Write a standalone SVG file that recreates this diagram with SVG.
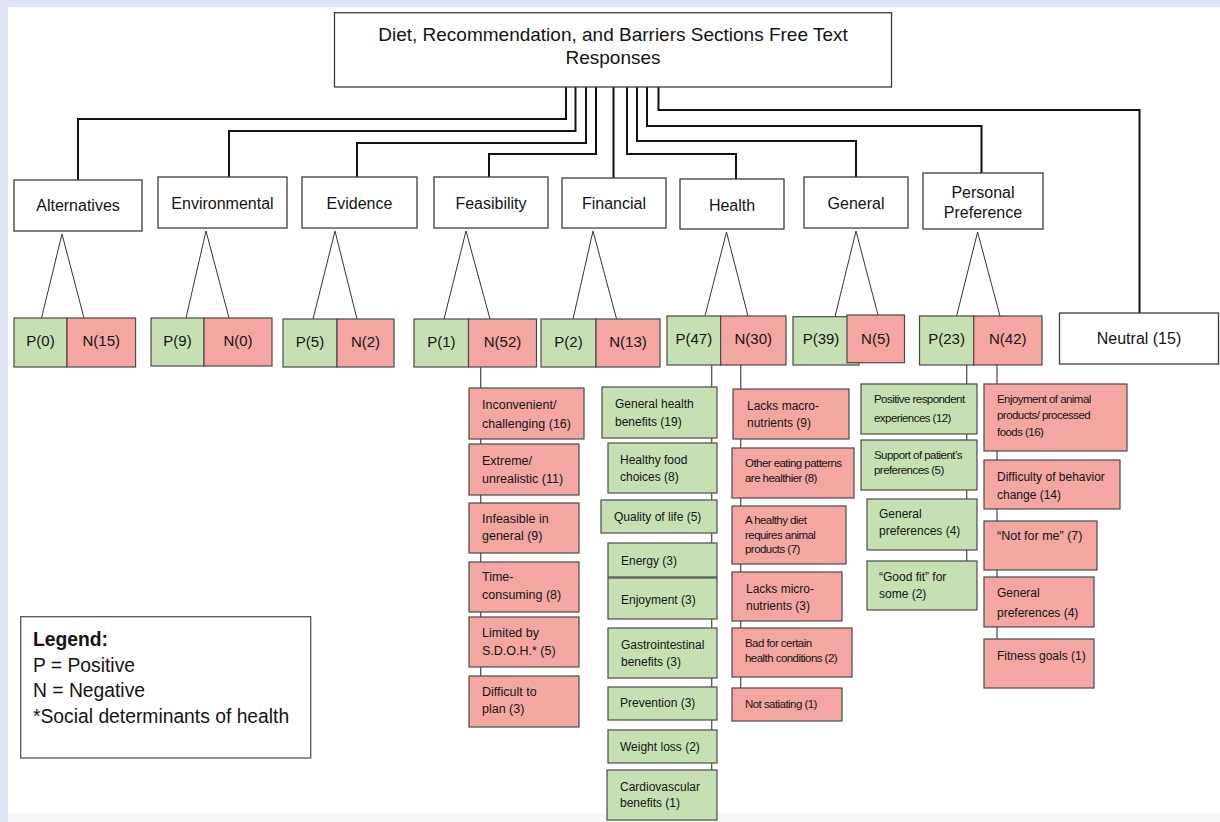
<svg xmlns="http://www.w3.org/2000/svg" width="1220" height="822" viewBox="0 0 1220 822">
<style>
.t{font-family:"Liberation Sans",Arial,sans-serif;fill:#141414}
.c{text-anchor:middle}
.cat{fill:#fff;stroke:#3c3c3c;stroke-width:1.3}
.pos{fill:#c6e0b4;stroke:#4a4a4a;stroke-width:1.2}
.neg{fill:#f4a6a2;stroke:#4a4a4a;stroke-width:1.2}
.conn{fill:none;stroke:#111;stroke-width:2}
.tri{fill:none;stroke:#333;stroke-width:1}
.stem{fill:none;stroke:#555;stroke-width:1.3}
.ttl{font-size:19px}
.cf{font-size:16px}
.pn{font-size:15px}
.s{font-size:12px}
.s5{font-size:12.5px}
.cd{font-size:11.5px;letter-spacing:-0.55px}
.lg{font-size:19.3px}
</style>
<rect x="0" y="0" width="1220" height="822" fill="#dfe3f3"/>
<rect x="8" y="7" width="1212" height="815" fill="#ffffff"/>
<rect x="8" y="813" width="1212" height="9" fill="#f6f6f6"/>

<g id="connectors">
<path class="conn" d="M566 87V119H78V180"/>
<path class="conn" d="M575.5 87V131H229V177"/>
<path class="conn" d="M586 87V143H357V177"/>
<path class="conn" d="M596 87V154H489V177"/>
<path class="conn" d="M613.5 87V178"/>
<path class="conn" d="M627 87V154H736V179"/>
<path class="conn" d="M637 87V141H856V177"/>
<path class="conn" d="M647 87V126H981.5V173"/>
<path class="conn" d="M658.5 87V110H1139.5V313"/>
<path class="tri" d="M41.5 318L62 234L84 318"/>
<path class="tri" d="M186 318L206 231L229 318"/>
<path class="tri" d="M313 319L335 231L357 319"/>
<path class="tri" d="M444 319L466 231L490 319"/>
<path class="tri" d="M573 319L593 231L616.6 319"/>
<path class="tri" d="M705 316L726.5 232L748 316"/>
<path class="tri" d="M835 316.7L856 231L878 315"/>
<path class="tri" d="M956.6 316L977.6 232L1000 316"/>
<path class="stem" d="M480.7 367V676"/>
<path class="stem" d="M711.7 365V770"/>
<path class="stem" d="M740.7 365V688"/>
<path class="stem" d="M966.7 365V561"/>
<path class="stem" d="M997 365V639"/>
</g>

<g id="title">
<rect class="cat" x="334.5" y="12.7" width="557" height="74.3"/>
<text class="t c ttl" x="613" y="41">Diet, Recommendation, and Barriers Sections Free Text</text>
<text class="t c ttl" x="613" y="64">Responses</text>
</g>

<g id="cat-alternatives"><rect class="cat" x="14" y="180" width="128" height="51"/><text class="t c cf" x="78" y="211">Alternatives</text></g>
<g id="cat-environmental"><rect class="cat" x="158" y="177" width="129" height="51"/><text class="t c cf" x="222.5" y="209">Environmental</text></g>
<g id="cat-evidence"><rect class="cat" x="302" y="177" width="115" height="51"/><text class="t c cf" x="359.5" y="209">Evidence</text></g>
<g id="cat-feasibility"><rect class="cat" x="434" y="177" width="114" height="51"/><text class="t c cf" x="491" y="209">Feasibility</text></g>
<g id="cat-financial"><rect class="cat" x="562" y="178" width="104" height="50"/><text class="t c cf" x="614" y="209">Financial</text></g>
<g id="cat-health"><rect class="cat" x="680" y="179" width="104" height="50"/><text class="t c cf" x="732" y="211">Health</text></g>
<g id="cat-general"><rect class="cat" x="804" y="177" width="104" height="51"/><text class="t c cf" x="856" y="209">General</text></g>
<g id="cat-personal"><rect class="cat" x="923" y="173" width="120" height="56"/><text class="t c cf" x="983" y="198">Personal</text><text class="t c cf" x="983" y="218">Preference</text></g>

<g id="pn-alternatives"><rect class="pos" x="14" y="318" width="53" height="49"/><rect class="neg" x="67" y="318" width="68.6" height="49"/><text class="t c pn" x="40.5" y="346">P(0)</text><text class="t c pn" x="101.3" y="346">N(15)</text></g>
<g id="pn-environmental"><rect class="pos" x="151" y="318" width="53" height="48"/><rect class="neg" x="204" y="318" width="68" height="48"/><text class="t c pn" x="177.5" y="346">P(9)</text><text class="t c pn" x="238" y="346">N(0)</text></g>
<g id="pn-evidence"><rect class="pos" x="283" y="319" width="54" height="48"/><rect class="neg" x="337" y="319" width="57" height="48"/><text class="t c pn" x="310" y="347">P(5)</text><text class="t c pn" x="365.5" y="347">N(2)</text></g>
<g id="pn-feasibility"><rect class="pos" x="414" y="319" width="54.5" height="48"/><rect class="neg" x="468.5" y="319" width="68" height="48"/><text class="t c pn" x="441.3" y="347">P(1)</text><text class="t c pn" x="502.5" y="347">N(52)</text></g>
<g id="pn-financial"><rect class="pos" x="541" y="319" width="55" height="48"/><rect class="neg" x="596" y="319" width="64" height="48"/><text class="t c pn" x="568.5" y="347">P(2)</text><text class="t c pn" x="628" y="347">N(13)</text></g>
<g id="pn-health"><rect class="pos" x="667" y="316" width="53.6" height="49"/><rect class="neg" x="720.6" y="316" width="65.4" height="49"/><text class="t c pn" x="693.8" y="344">P(47)</text><text class="t c pn" x="753.3" y="344">N(30)</text></g>
<g id="pn-general"><rect class="pos" x="793" y="316.7" width="66" height="48.3"/><rect class="neg" x="847" y="315" width="57.5" height="47.7"/><text class="t c pn" x="821" y="344">P(39)</text><text class="t c pn" x="875.7" y="344">N(5)</text></g>
<g id="pn-personal"><rect class="pos" x="919.5" y="316" width="54.2" height="49"/><rect class="neg" x="973.7" y="316" width="68.3" height="49"/><text class="t c pn" x="946.6" y="344">P(23)</text><text class="t c pn" x="1007.8" y="344">N(42)</text></g>
<g id="neutral"><rect class="cat" x="1059.5" y="313" width="159" height="51"/><text class="t c cf" x="1139" y="344">Neutral (15)</text></g>

<g id="feas-1"><rect class="neg" x="469" y="388" width="115" height="51"/><text class="t s5" x="482" y="409">Inconvenient/</text><text class="t s5" x="482" y="428">challenging (16)</text></g>
<g id="feas-2"><rect class="neg" x="469" y="444" width="110" height="51"/><text class="t s5" x="482" y="465">Extreme/</text><text class="t s5" x="482" y="483">unrealistic (11)</text></g>
<g id="feas-3"><rect class="neg" x="469" y="503" width="110" height="50"/><text class="t s5" x="482" y="523">Infeasible in</text><text class="t s5" x="482" y="540">general (9)</text></g>
<g id="feas-4"><rect class="neg" x="469" y="562" width="110" height="50"/><text class="t s5" x="482" y="581">Time-</text><text class="t s5" x="482" y="599">consuming (8)</text></g>
<g id="feas-5"><rect class="neg" x="469" y="617" width="110" height="50"/><text class="t s5" x="482" y="637">Limited by</text><text class="t s5" x="482" y="655">S.D.O.H.* (5)</text></g>
<g id="feas-6"><rect class="neg" x="469" y="676" width="110" height="51"/><text class="t s5" x="482" y="696">Difficult to</text><text class="t s5" x="482" y="713">plan (3)</text></g>

<g id="hp-1"><rect class="pos" x="602" y="387" width="115" height="51"/><text class="t s" x="615" y="408">General health</text><text class="t s" x="615" y="426">benefits (19)</text></g>
<g id="hp-2"><rect class="pos" x="608" y="443" width="109" height="50"/><text class="t s" x="620" y="464">Healthy food</text><text class="t s" x="620" y="481">choices (8)</text></g>
<g id="hp-3"><rect class="pos" x="601" y="500" width="116" height="33"/><text class="t s" x="614" y="521">Quality of life (5)</text></g>
<g id="hp-4"><rect class="pos" x="608" y="543" width="109" height="34"/><text class="t s" x="621" y="565">Energy (3)</text></g>
<g id="hp-5"><rect class="pos" x="608" y="578" width="109" height="41"/><text class="t s" x="621" y="604">Enjoyment (3)</text></g>
<g id="hp-6"><rect class="pos" x="608" y="628" width="109" height="50"/><text class="t s" x="621" y="649">Gastrointestinal</text><text class="t s" x="621" y="666">benefits (3)</text></g>
<g id="hp-7"><rect class="pos" x="608" y="687" width="109" height="33"/><text class="t s" x="620" y="707">Prevention (3)</text></g>
<g id="hp-8"><rect class="pos" x="608" y="730" width="109" height="33"/><text class="t s" x="620" y="751">Weight loss (2)</text></g>
<g id="hp-9"><rect class="pos" x="607" y="770" width="110" height="50"/><text class="t s" x="620" y="791">Cardiovascular</text><text class="t s" x="620" y="807">benefits (1)</text></g>

<g id="hn-1"><rect class="neg" x="733" y="389" width="116" height="50"/><text class="t s" x="747" y="410">Lacks macro-</text><text class="t s" x="747" y="427">nutrients (9)</text></g>
<g id="hn-2"><rect class="neg" x="732" y="448" width="122" height="50"/><text class="t cd" x="745" y="467">Other eating patterns</text><text class="t cd" x="745" y="482">are healthier (8)</text></g>
<g id="hn-3"><rect class="neg" x="732" y="506" width="114" height="58"/><text class="t cd" x="745" y="524">A healthy diet</text><text class="t cd" x="745" y="539">requires animal</text><text class="t cd" x="745" y="553">products (7)</text></g>
<g id="hn-4"><rect class="neg" x="732" y="572" width="110" height="49"/><text class="t s" x="746" y="593">Lacks micro-</text><text class="t s" x="746" y="610">nutrients (3)</text></g>
<g id="hn-5"><rect class="neg" x="732" y="628" width="120" height="49"/><text class="t cd" x="745" y="647">Bad for certain</text><text class="t cd" x="745" y="662">health conditions (2)</text></g>
<g id="hn-6"><rect class="neg" x="732" y="688" width="110" height="33"/><text class="t cd" x="745" y="708">Not satiating (1)</text></g>

<g id="pp-1"><rect class="pos" x="861" y="384" width="116" height="50"/><text class="t cd" x="874" y="403">Positive respondent</text><text class="t cd" x="874" y="422">experiences (12)</text></g>
<g id="pp-2"><rect class="pos" x="861" y="440" width="116" height="50"/><text class="t cd" x="874" y="459">Support of patient’s</text><text class="t cd" x="874" y="474">preferences (5)</text></g>
<g id="pp-3"><rect class="pos" x="867" y="499" width="110" height="51"/><text class="t s" x="879" y="518">General</text><text class="t s" x="879" y="535">preferences (4)</text></g>
<g id="pp-4"><rect class="pos" x="867" y="561" width="110" height="49"/><text class="t s" x="879" y="581">“Good fit” for</text><text class="t s" x="879" y="598">some (2)</text></g>

<g id="pn-1"><rect class="neg" x="984" y="384" width="143" height="67"/><text class="t cd" x="997" y="403">Enjoyment of animal</text><text class="t cd" x="997" y="419">products/ processed</text><text class="t cd" x="997" y="436">foods (16)</text></g>
<g id="pn-2"><rect class="neg" x="984" y="460" width="136" height="49"/><text class="t s" x="997" y="481">Difficulty of behavior</text><text class="t s" x="997" y="499">change (14)</text></g>
<g id="pn-3"><rect class="neg" x="984" y="521" width="113" height="49"/><text class="t s5" x="997" y="540">“Not for me” (7)</text></g>
<g id="pn-4"><rect class="neg" x="984" y="577" width="110" height="50"/><text class="t s" x="997" y="597">General</text><text class="t s" x="997" y="617">preferences (4)</text></g>
<g id="pn-5"><rect class="neg" x="984" y="639" width="110" height="49"/><text class="t s" x="997" y="660">Fitness goals (1)</text></g>

<g id="legend">
<rect x="20.7" y="616.7" width="290" height="141.3" fill="#fff" stroke="#555" stroke-width="1.3"/>
<text class="t lg" x="33" y="646" font-weight="bold">Legend:</text>
<text class="t lg" x="33" y="671.5">P = Positive</text>
<text class="t lg" x="33" y="697">N = Negative</text>
<text class="t lg" x="33" y="722.5">*Social determinants of health</text>
</g>
</svg>
